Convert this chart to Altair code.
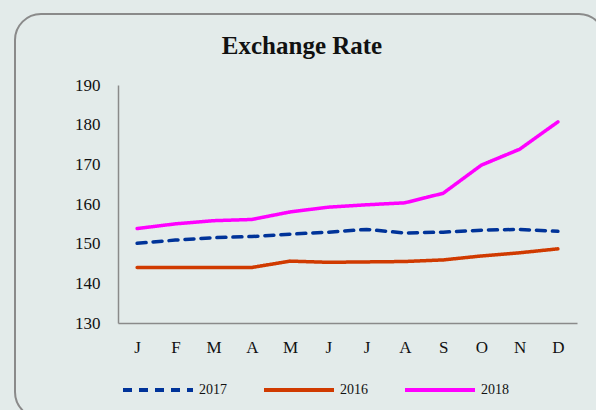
import altair as alt
import pandas as pd

months = ["J", "F", "M", "A", "M ", "J ", "J  ", "A ", "S", "O", "N", "D"]
v2017 = [150.1, 150.9, 151.5, 151.8, 152.4, 152.9, 153.6, 152.7, 152.9, 153.4, 153.6, 153.1]
v2016 = [144.0, 144.0, 144.0, 144.0, 145.6, 145.3, 145.4, 145.5, 145.9, 146.9, 147.7, 148.7]
v2018 = [153.8, 155.0, 155.8, 156.1, 158.0, 159.2, 159.8, 160.3, 162.7, 169.8, 173.8, 180.7]
series = ["2017", "2016", "2018"]
colors = ["#003399", "#d03a00", "#ff00ff"]
dashes = [[9, 7], [1, 0], [1, 0]]
title_text = "Exchange Rate"

rows = []
for name, vals in zip(series, [v2017, v2016, v2018]):
    for i, (m, v) in enumerate(zip(months, vals)):
        rows.append({"month": m, "idx": i, "year": name, "value": v})
df = pd.DataFrame(rows)

FONT = "Liberation Serif"

border = alt.Chart(pd.DataFrame({"a": [0]})).mark_rect(
    fill="#e3ebea", stroke="#8a8a8a", strokeWidth=2, cornerRadius=26
).encode(
    x=alt.value(-103), x2=alt.value(487), y=alt.value(-71), y2=alt.value(333)
)

title = alt.Chart(pd.DataFrame({"t": [title_text]})).mark_text(
    font=FONT, fontSize=25, fontWeight="bold", color="#111",
    align="center", baseline="middle"
).encode(text="t:N", x=alt.value(184), y=alt.value(-39))

legend_kw = dict(title=None, orient="none", direction="horizontal",
                 legendX=3, legendY=268, symbolType="stroke",
                 symbolSize=4900, symbolStrokeWidth=4,
                 labelFont=FONT, labelFontSize=14, labelColor="#111",
                 labelOffset=4, columnPadding=29)

lines = alt.Chart(df).mark_line(strokeWidth=3.5, strokeCap="round").encode(
    x=alt.X("month:N", sort=months, scale=alt.Scale(paddingInner=1, paddingOuter=0.5),
            axis=alt.Axis(title=None, labelAngle=0, labelFont=FONT, labelFontSize=17,
                          labelColor="#111", ticks=False, labelPadding=16,
                          domainColor="#8a8a8a", domainWidth=1.5, zindex=1,
                          labelExpr="trim(datum.label)")),
    y=alt.Y("value:Q", scale=alt.Scale(domain=[130, 190], nice=False, zero=False),
            axis=alt.Axis(title=None, values=[130, 140, 150, 160, 170, 180, 190],
                          labelFont=FONT, labelFontSize=17, labelColor="#111",
                          ticks=False, labelPadding=18, grid=False, zindex=1,
                          domainColor="#8a8a8a", domainWidth=1.5)),
    color=alt.Color("year:N", scale=alt.Scale(domain=series, range=colors),
                    legend=alt.Legend(**legend_kw)),
    strokeDash=alt.StrokeDash("year:N", scale=alt.Scale(domain=series, range=dashes),
                              legend=alt.Legend(**legend_kw)),
    detail="year:N",
)

chart = alt.layer(border, title, lines).properties(
    width=459, height=238,
    padding={"left": 118, "top": 85, "right": 19, "bottom": 87},
    autosize=alt.AutoSizeParams(type="none"),
    background="#e3ebea",
).configure_view(stroke=None)

chart.save("out.html", embed_options={"renderer": "svg", "actions": False})
